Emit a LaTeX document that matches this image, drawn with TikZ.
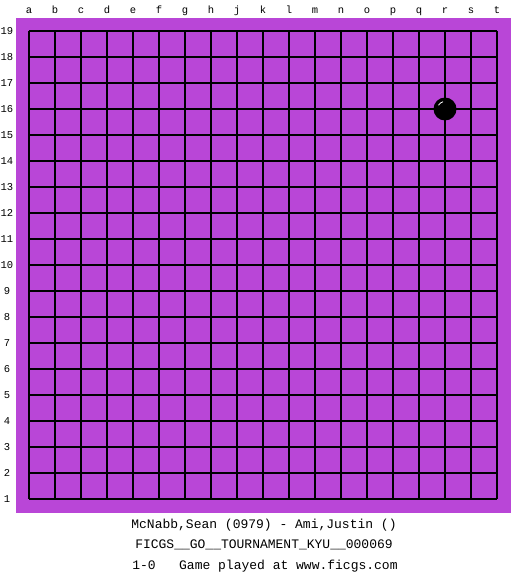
\documentclass[tikz,border=0pt]{standalone}
\usepackage{fontspec}
\setmonofont{Liberation Mono}
\usetikzlibrary{positioning}
\definecolor{boardpurple}{RGB}{185,70,215}
\begin{document}
\begin{tikzpicture}[x=1pt,y=-1pt,
  coordlabel/.style={font=\ttfamily\fontsize{10.5}{10.5}\selectfont,inner sep=0pt},
  infoline/.style={font=\ttfamily\fontsize{13}{13}\selectfont,inner sep=0pt,anchor=base}]
                \def\cell{26}
                \def\ox{29}
                \def\oy{31}
                \useasboundingbox[fill=white] (0,0) rectangle (525,575);
                %Board
                \fill[boardpurple] (16,18) rectangle (511,513);
                %Grid
                \foreach \i in {0,...,18}{
                  \draw[line width=1.15pt] (\ox+\i*\cell,\oy) -- (\ox+\i*\cell,\oy+18*\cell);
                  \draw[line width=1.15pt] (\ox,\oy+\i*\cell) -- (\ox+18*\cell,\oy+\i*\cell);
                }
                %Column labels
                \foreach \c [count=\i from 0] in {a,b,c,d,e,f,g,h,j,k,l,m,n,o,p,q,r,s,t}
                  \node[coordlabel,anchor=base] (col\c) at (\ox+\i*\cell,14) {\c};
                %Row labels
                \foreach \r in {1,...,19}
                  \node[coordlabel] (row\r) at (7,\oy+19*\cell-\r*\cell) {\r};
                %Stone at r16
                \coordinate (r16) at (\ox+16*\cell,\oy+3*\cell);
                \fill[black] (r16) circle (11.5);
                \draw[white,line width=0.8pt] ([shift={(-150:7.5)}]r16) arc (-150:-105:7.5);
                %Game info
                \node[infoline] (players) at (264,528) {McNabb,Sean (0979) - Ami,Justin ()};
                \node[infoline] (event) at (264,548) {FICGS\_\_GO\_\_TOURNAMENT\_KYU\_\_000069};
                \node[infoline] (result) at (265,569) {1-0~~~Game played at www.ficgs.com};
            \end{tikzpicture}
\end{document}
